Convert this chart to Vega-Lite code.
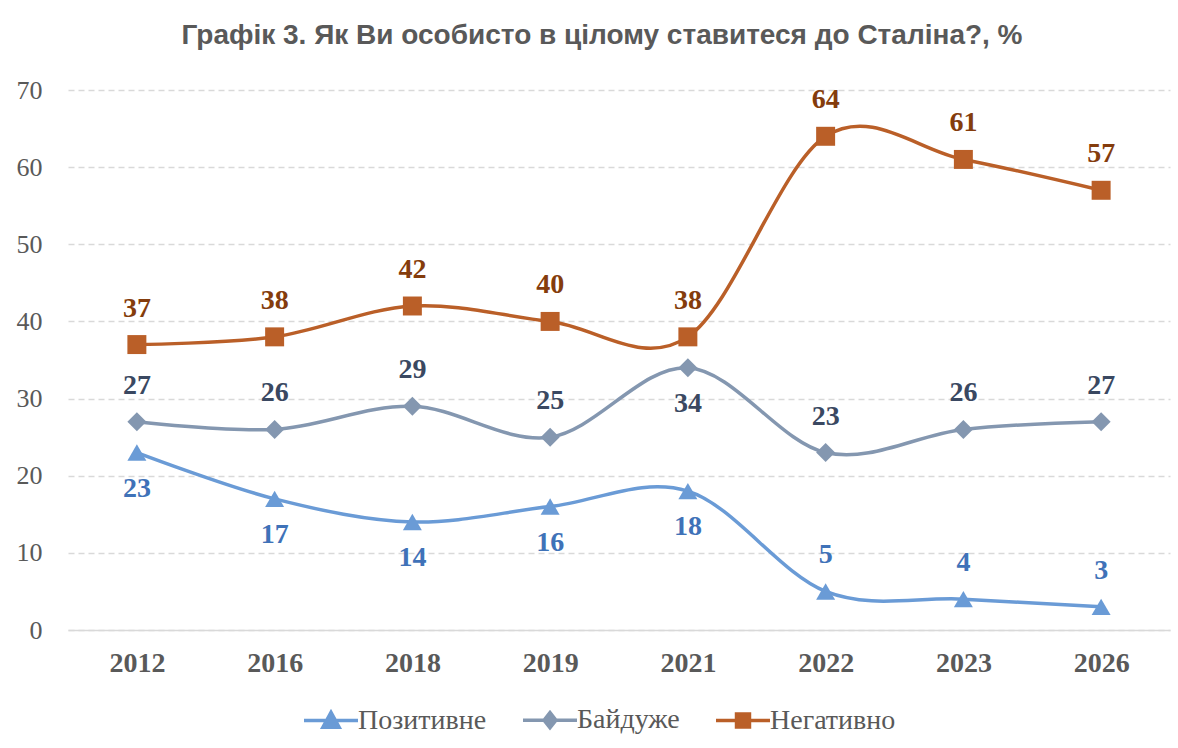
{
  "$schema": "https://vega.github.io/schema/vega-lite/v6.json",
  "width": 1102,
  "height": 540,
  "autosize": {"type": "none"},
  "padding": {"left": 68, "top": 90, "right": 8, "bottom": 118},
  "background": "white",
  "title": {
    "text": "Графік 3. Як Ви особисто в цілому ставитеся до Сталіна?, %",
    "font": "Liberation Sans",
    "fontSize": 28,
    "fontWeight": "bold",
    "color": "#595959",
    "anchor": "middle",
    "offset": 27,
    "dx": -17
  },
  "config": {
    "view": {"stroke": null},
    "axis": {"grid": false}
  },
  "data": {
    "values": [
      {"year": "2012", "series": "Позитивне", "value": 23},
      {"year": "2016", "series": "Позитивне", "value": 17},
      {"year": "2018", "series": "Позитивне", "value": 14},
      {"year": "2019", "series": "Позитивне", "value": 16},
      {"year": "2021", "series": "Позитивне", "value": 18},
      {"year": "2022", "series": "Позитивне", "value": 5},
      {"year": "2023", "series": "Позитивне", "value": 4},
      {"year": "2026", "series": "Позитивне", "value": 3},
      {"year": "2012", "series": "Байдуже", "value": 27},
      {"year": "2016", "series": "Байдуже", "value": 26},
      {"year": "2018", "series": "Байдуже", "value": 29},
      {"year": "2019", "series": "Байдуже", "value": 25},
      {"year": "2021", "series": "Байдуже", "value": 34},
      {"year": "2022", "series": "Байдуже", "value": 23},
      {"year": "2023", "series": "Байдуже", "value": 26},
      {"year": "2026", "series": "Байдуже", "value": 27},
      {"year": "2012", "series": "Негативно", "value": 37},
      {"year": "2016", "series": "Негативно", "value": 38},
      {"year": "2018", "series": "Негативно", "value": 42},
      {"year": "2019", "series": "Негативно", "value": 40},
      {"year": "2021", "series": "Негативно", "value": 38},
      {"year": "2022", "series": "Негативно", "value": 64},
      {"year": "2023", "series": "Негативно", "value": 61},
      {"year": "2026", "series": "Негативно", "value": 57}
    ]
  },
  "encoding": {
    "x": {
      "field": "year",
      "type": "ordinal",
      "scale": {"type": "point", "padding": 0.5},
      "axis": {
        "title": null,
        "labelAngle": 0,
        "labelFont": "Liberation Serif",
        "labelFontSize": 28,
        "labelFontWeight": "bold",
        "labelColor": "#595959",
        "labelBaseline": "middle",
        "labelPadding": 33,
        "ticks": false,
        "domain": true,
        "domainColor": "#D9D9D9",
        "domainWidth": 1.5
      }
    },
    "y": {
      "field": "value",
      "type": "quantitative",
      "scale": {"domain": [0, 70], "nice": false},
      "axis": {
        "title": null,
        "values": [0, 10, 20, 30, 40, 50, 60, 70],
        "grid": true,
        "gridColor": "#D9D9D9",
        "gridWidth": 1.5,
        "gridDash": [6, 4],
        "domain": false,
        "ticks": false,
        "labelFont": "Liberation Serif",
        "labelFontSize": 26,
        "labelColor": "#595959",
        "labelPadding": 26
      }
    }
  },
  "layer": [
    {
      "mark": {"type": "line", "interpolate": "cardinal", "tension": 0, "strokeWidth": 3.5},
      "encoding": {
        "color": {
          "field": "series",
          "type": "nominal",
          "scale": {"domain": ["Позитивне", "Байдуже", "Негативно"], "range": ["#6A9BD6", "#8497B0", "#BA5F28"]},
          "legend": {
            "title": null,
            "orient": "none",
            "direction": "horizontal",
            "legendX": 234,
            "legendY": 601,
            "symbolSize": 2916,
            "labelFont": "Liberation Serif",
            "labelFontSize": 28,
            "labelColor": "#595959",
            "labelOffset": -2,
            "columnPadding": 29,
            "encode": {
              "symbols": {
                "update": {
                  "shape": {"signal": "datum.value == 'Позитивне' ? 'M-1,0H1M-0.3,0.25L0,-0.3L0.3,0.25Z' : datum.value == 'Байдуже' ? 'M-1,0H1M0,-0.28L0.22,0L0,0.28L-0.22,0Z' : 'M-1,0H1M-0.24,-0.24H0.24V0.24H-0.24Z'"},
                  "fill": {"signal": "datum.value == 'Позитивне' ? '#6A9BD6' : datum.value == 'Байдуже' ? '#8497B0' : '#BA5F28'"},
                  "stroke": {"signal": "datum.value == 'Позитивне' ? '#6A9BD6' : datum.value == 'Байдуже' ? '#8497B0' : '#BA5F28'"},
                  "strokeWidth": {"value": 3.5},
                  "opacity": {"value": 1}
                }
              }
            }
          }
        }
      }
    },
    {
      "mark": {"type": "point", "filled": true, "opacity": 1, "size": 360},
      "encoding": {
        "color": {
          "field": "series",
          "type": "nominal",
          "scale": {"domain": ["Позитивне", "Байдуже", "Негативно"], "range": ["#6A9BD6", "#8497B0", "#BA5F28"]},
          "legend": null
        },
        "shape": {
          "field": "series",
          "type": "nominal",
          "scale": {"domain": ["Позитивне", "Байдуже", "Негативно"], "range": ["triangle-up", "diamond", "square"]},
          "legend": null
        }
      }
    },
    {
      "transform": [{"filter": "!((datum.series == 'Позитивне' && datum.year <= '2021') || (datum.series == 'Байдуже' && datum.year == '2021'))"}],
      "mark": {"type": "text", "dy": -36, "font": "Liberation Serif", "fontSize": 28, "fontWeight": "bold", "baseline": "middle"},
      "encoding": {
        "text": {"field": "value", "type": "quantitative"},
        "color": {
          "field": "series",
          "type": "nominal",
          "scale": {"domain": ["Позитивне", "Байдуже", "Негативно"], "range": ["#3F72B8", "#3A4861", "#843C0C"]},
          "legend": null
        }
      }
    },
    {
      "transform": [{"filter": "(datum.series == 'Позитивне' && datum.year <= '2021') || (datum.series == 'Байдуже' && datum.year == '2021')"}],
      "mark": {"type": "text", "dy": 36, "font": "Liberation Serif", "fontSize": 28, "fontWeight": "bold", "baseline": "middle"},
      "encoding": {
        "text": {"field": "value", "type": "quantitative"},
        "color": {
          "field": "series",
          "type": "nominal",
          "scale": {"domain": ["Позитивне", "Байдуже", "Негативно"], "range": ["#3F72B8", "#3A4861", "#843C0C"]},
          "legend": null
        }
      }
    }
  ],
  "resolve": {"scale": {"color": "independent"}}
}
